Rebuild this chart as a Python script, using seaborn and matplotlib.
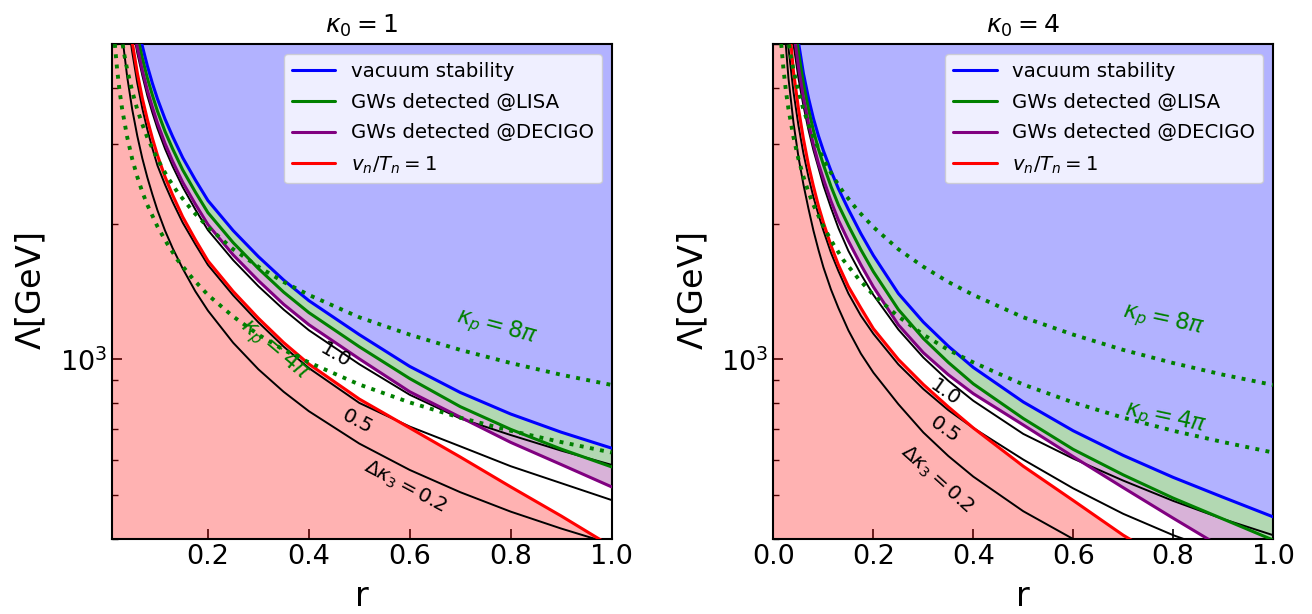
import numpy as np
import matplotlib
matplotlib.use("Agg")
import matplotlib.pyplot as plt
from matplotlib.ticker import NullFormatter, LogLocator
import seaborn as sns

# ---------------- data ----------------
# left panel: kappa_0 = 1
r_left = [0.01, 0.02, 0.03, 0.04, 0.05, 0.06, 0.07, 0.08, 0.09, 0.1, 0.115, 0.13,
          0.15, 0.175, 0.2, 0.25, 0.3, 0.35, 0.4, 0.5, 0.6, 0.7, 0.8, 0.9, 1.0]
vac_left = [22000, 13000, 9500, 7600, 6400, 5560, 4950, 4470, 4090, 3780, 3410, 3120,
            2800, 2500, 2250, 1930, 1690, 1500, 1350, 1135, 965, 845, 757, 690, 636]
lisa_left = [20700, 12200, 8930, 7140, 6020, 5230, 4650, 4200, 3850, 3550, 3200, 2930,
             2630, 2350, 2115, 1815, 1590, 1410, 1270, 1067, 907, 786, 700, 633, 578]
decigo_left = [19460, 11470, 8390, 6710, 5660, 4920, 4370, 3950, 3620, 3340, 3010, 2750,
               2470, 2210, 1990, 1705, 1495, 1325, 1194, 1003, 848, 745, 655, 585, 522]
vt_left = [17500, 10400, 7550, 6050, 5050, 4320, 3790, 3400, 3090, 2835, 2540, 2315,
           2070, 1843, 1654, 1415, 1234, 1090, 977, 817, 705, 608, 522, 450, 385]
dk10_left = [18900, 11200, 8170, 6540, 5500, 4780, 4260, 3840, 3520, 3250, 2930, 2680,
             2410, 2150, 1935, 1660, 1453, 1290, 1161, 976, 835, 740, 680, 628, 584]
dk05_left = [16600, 9880, 7170, 5750, 4800, 4100, 3600, 3230, 2935, 2690, 2440, 2235,
             2010, 1800, 1620, 1387, 1209, 1068, 957, 801, 710, 642, 580, 532, 488]
dk02_left = [11800, 7050, 5220, 4230, 3580, 3130, 2790, 2530, 2320, 2140, 1930, 1765,
             1590, 1416, 1283, 1089, 951, 848, 768, 651, 569, 508, 460, 422, 390]

# right panel: kappa_0 = 4
r_right = [0.0, 0.02, 0.03, 0.04, 0.05, 0.06, 0.07, 0.08, 0.09, 0.1, 0.115, 0.13,
           0.15, 0.175, 0.2, 0.25, 0.3, 0.35, 0.4, 0.5, 0.6, 0.7, 0.8, 0.9, 1.0]
vac_right = [100000, 11000, 7700, 6100, 5050, 4300, 3800, 3420, 3130, 2900, 2620, 2390,
             2150, 1900, 1700, 1400, 1210, 1070, 960, 805, 695, 613, 548, 495, 448]
lisa_right = [100000, 10450, 7320, 5800, 4800, 4085, 3590, 3215, 2925, 2700, 2420, 2200,
              1980, 1750, 1565, 1290, 1113, 985, 883, 740, 632, 555, 493, 443, 398]
decigo_right = [100000, 9700, 6800, 5390, 4460, 3800, 3340, 2990, 2720, 2510, 2245, 2035,
                1830, 1620, 1448, 1193, 1035, 925, 840, 716, 609, 520, 445, 382, 327]
vt_right = [100000, 9000, 5800, 4350, 3600, 3080, 2700, 2420, 2190, 2010, 1790, 1620,
            1450, 1300, 1170, 1000, 880, 785, 705, 580, 487, 408, 350, 297, 253]
dk10_right = [100000, 8570, 6250, 5000, 4200, 3650, 3230, 2910, 2660, 2430, 2170, 1955,
              1740, 1545, 1390, 1165, 1010, 897, 810, 684, 603, 539, 486, 443, 408]
dk05_right = [100000, 7000, 4900, 3920, 3300, 2860, 2540, 2290, 2095, 1930, 1725, 1570,
              1400, 1250, 1140, 975, 860, 772, 705, 600, 518, 455, 408, 372, 342]
dk02_right = [100000, 5780, 4200, 3350, 2810, 2440, 2160, 1930, 1750, 1600, 1430, 1300,
              1160, 1030, 935, 796, 689, 611, 550, 461, 400, 354, 319, 291, 268]

# perturbativity lines (same in both panels)
kp4_r = [0.0155, 0.02, 0.025, 0.03, 0.04, 0.05, 0.06, 0.07, 0.08, 0.1, 0.12, 0.14,
         0.17, 0.2, 0.25, 0.3, 0.35, 0.4, 0.5, 0.6, 0.7, 0.8, 0.9, 1.0]
kp4_L = [5000, 4400, 3930, 3590, 3110, 2780, 2540, 2350, 2200, 1970, 1800, 1660,
         1510, 1390, 1245, 1135, 1050, 985, 880, 803, 743, 695, 656, 622]
kp8_r = [0.031, 0.035, 0.04, 0.05, 0.06, 0.07, 0.08, 0.1, 0.12, 0.14, 0.17, 0.2,
         0.25, 0.3, 0.35, 0.4, 0.5, 0.6, 0.7, 0.8, 0.9, 1.0]
kp8_L = [4990, 4690, 4390, 3930, 3580, 3320, 3100, 2780, 2535, 2345, 2130, 1965,
         1755, 1605, 1485, 1390, 1240, 1135, 1050, 982, 925, 878]

titles = [r"$\kappa_0 = 1$", r"$\kappa_0 = 4$"]
legend_labels = ["vacuum stability", "GWs detected @LISA", "GWs detected @DECIGO",
                 r"$v_n/T_n = 1$"]
y_limits = (400, 5000)
x_limits = [(0.01, 1.0), (0.0, 1.0)]
x_ticks = [[0.2, 0.4, 0.6, 0.8, 1.0], [0.0, 0.2, 0.4, 0.6, 0.8, 1.0]]

# label positions (data coords) and rotations
labels_left = [
    (0.773, 1175, r"$\kappa_p = 8\pi$", -15, "green", 16.5),
    (0.333, 1050, r"$\kappa_p = 4\pi$", -40, "green", 16.5),
    (0.452, 1023, "1.0", -30, "black", 14.5),
    (0.496, 727, "0.5", -28, "black", 14.5),
    (0.591, 521, r"$\Delta\kappa_3 = 0.2$", -28, "black", 14.5),
]
labels_right = [
    (0.780, 1224, r"$\kappa_p = 8\pi$", -12, "green", 16.5),
    (0.784, 742, r"$\kappa_p = 4\pi$", -12, "green", 16.5),
    (0.344, 843, "1.0", -35, "black", 14.5),
    (0.344, 698, "0.5", -35, "black", 14.5),
    (0.328, 541, r"$\Delta\kappa_3 = 0.2$", -42, "black", 14.5),
]

# ---------------- style ----------------
sns.set_style("ticks", {"xtick.direction": "in", "ytick.direction": "in",
                        "axes.edgecolor": "black", "text.color": "black",
                        "axes.labelcolor": "black", "xtick.color": "black",
                        "ytick.color": "black"})
plt.rcParams["font.family"] = ["DejaVu Sans"]
plt.rcParams["mathtext.fontset"] = "dejavusans"

fig, axes = plt.subplots(1, 2, figsize=(13.12, 6.14), dpi=100)
fig.subplots_adjust(left=0.0854, right=0.9703, bottom=0.1221, top=0.9283, wspace=0.324)

panels = [
    (r_left, vac_left, lisa_left, decigo_left, vt_left, dk10_left, dk05_left, dk02_left, labels_left),
    (r_right, vac_right, lisa_right, decigo_right, vt_right, dk10_right, dk05_right, dk02_right, labels_right),
]

BIG, SMALL = 1e6, 1.0
for i, (ax, p) in enumerate(zip(axes, panels)):
    r, vac, lisa, dec, vt, d10, d05, d02, labs = p
    r = np.asarray(r)
    # filled regions
    ax.fill_between(r, vac, BIG, color="blue", alpha=0.3, lw=0, zorder=1)
    ax.fill_between(r, lisa, vac, color="green", alpha=0.3, lw=0, zorder=1)
    ax.fill_between(r, dec, lisa, color="purple", alpha=0.3, lw=0, zorder=1)
    ax.fill_between(r, SMALL, vt, color="red", alpha=0.3, lw=0, zorder=1)
    # Delta kappa_3 contours
    for d in (d10, d05, d02):
        sns.lineplot(x=r, y=d, ax=ax, color="black", lw=1.4, estimator=None,
                     sort=False, zorder=3)
    # boundaries
    for y, c, lab in zip((vac, lisa, dec, vt), ("blue", "green", "purple", "red"),
                         legend_labels):
        sns.lineplot(x=r, y=y, ax=ax, color=c, lw=2.2, estimator=None,
                     sort=False, label=lab, zorder=4)
    # perturbativity
    sns.lineplot(x=kp4_r, y=kp4_L, ax=ax, color="green", lw=2.8, ls=":",
                 estimator=None, sort=False, zorder=5)
    sns.lineplot(x=kp8_r, y=kp8_L, ax=ax, color="green", lw=2.8, ls=":",
                 estimator=None, sort=False, zorder=5)

    for (x, y, s, rot, c, fs) in labs:
        ax.text(x, y, s, rotation=rot, color=c, fontsize=fs, ha="center",
                va="center", rotation_mode="anchor", zorder=6)

    ax.set_yscale("log")
    ax.set_ylim(*y_limits)
    ax.set_xlim(*x_limits[i])
    ax.yaxis.set_major_locator(LogLocator(base=10))
    ax.yaxis.set_minor_locator(LogLocator(base=10, subs=np.arange(2, 10)))
    ax.yaxis.set_minor_formatter(NullFormatter())
    ax.set_xticks(x_ticks[i])
    ax.tick_params(which="major", direction="in", length=7, width=1.2, labelsize=19.5,
                   top=False, right=False, colors="black")
    ax.tick_params(which="minor", direction="in", length=4, width=1.0,
                   top=False, right=False, colors="black")
    for sp in ax.spines.values():
        sp.set_linewidth(1.5)
        sp.set_visible(True)
        sp.set_color("black")
    ax.set_xlabel("r", fontsize=24, labelpad=7)
    ax.set_ylabel(r"$\Lambda$[GeV]", fontsize=24, labelpad=8)
    ax.set_title(titles[i], fontsize=18, pad=8)
    ax.legend(loc="upper right", fontsize=14.2, handlelength=2.2, labelspacing=0.6,
              framealpha=0.8)

fig.savefig("out.png", dpi=100)
